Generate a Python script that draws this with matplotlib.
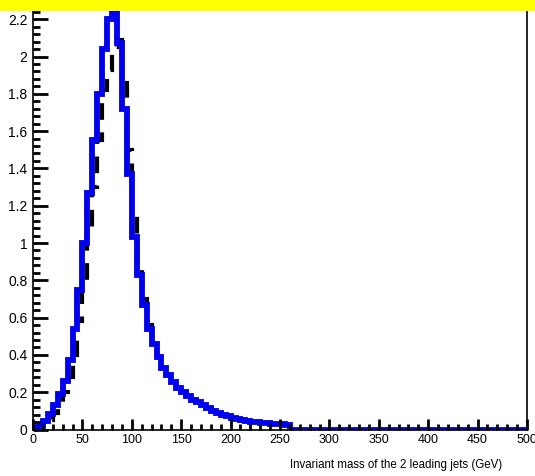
import numpy as np
import matplotlib
matplotlib.use("Agg")
import matplotlib.pyplot as plt
from matplotlib.ticker import MultipleLocator, FormatStrFormatter

plt.rcParams['font.family'] = ['Liberation Sans Narrow', 'Liberation Sans', 'DejaVu Sans']

# бины по 5 ГэВ, от 0 до 500
bin_width = 5
edges = np.arange(0, 500 + bin_width, bin_width)

# синяя гистограмма (сплошная линия), 0..260 ГэВ, дальше нули
blue_vals = [0.01, 0.02, 0.045, 0.085, 0.13, 0.19, 0.26, 0.37, 0.54, 0.75,
             1.0, 1.27, 1.55, 1.8, 2.04, 2.2, 2.25, 2.07, 1.72, 1.37,
             1.03, 0.83, 0.67, 0.54, 0.46, 0.39, 0.33, 0.29, 0.255, 0.225,
             0.2, 0.18, 0.16, 0.145, 0.13, 0.115, 0.1, 0.09, 0.08, 0.072,
             0.062, 0.056, 0.05, 0.046, 0.042, 0.039, 0.036, 0.033, 0.031, 0.029,
             0.027, 0.025]
# чёрная гистограмма (пунктир)
black_vals = [0.005, 0.01, 0.025, 0.05, 0.09, 0.14, 0.2, 0.28, 0.4, 0.58,
              0.8, 1.05, 1.3, 1.55, 1.82, 1.93, 2.05, 2.09, 1.86, 1.5,
              1.15, 0.88, 0.7, 0.56, 0.47, 0.39, 0.33, 0.29, 0.255, 0.225,
              0.2, 0.18, 0.16, 0.145, 0.13, 0.115, 0.1, 0.09, 0.08, 0.072,
              0.062, 0.056, 0.05, 0.046, 0.042, 0.039, 0.036, 0.033, 0.031, 0.029,
              0.027, 0.025]

n_bins = len(edges) - 1
blue = np.zeros(n_bins)
blue[:len(blue_vals)] = blue_vals
black = np.zeros(n_bins)
black[:len(black_vals)] = black_vals

x_label = 'Invariant mass of the 2 leading jets (GeV)'

W, H = 535, 476
fig = plt.figure(figsize=(W / 100, H / 100), dpi=100)
ax = fig.add_axes([33 / W, 46.5 / H, (527 - 33) / W, 1 - 46.5 / H])

ax.stairs(black, edges, color='black', lw=3, linestyle=(0, (4, 3)))
ax.stairs(blue, edges, color='#0000ee', lw=4.2)

ax.set_xlim(0, 500)
ax.set_ylim(0, 2.303)

ax.xaxis.set_major_locator(MultipleLocator(50))
ax.xaxis.set_minor_locator(MultipleLocator(10))
ax.yaxis.set_major_locator(MultipleLocator(0.2))
ax.yaxis.set_minor_locator(MultipleLocator(0.04))
ax.yaxis.set_major_formatter(FormatStrFormatter('%g'))

ax.tick_params(axis='both', which='both', direction='in', colors='black', width=2)
ax.tick_params(axis='y', which='major', length=11, labelsize=10, pad=4)
ax.tick_params(axis='y', which='minor', length=5)
ax.tick_params(axis='x', which='major', length=8, labelsize=9, pad=3)
ax.tick_params(axis='x', which='minor', length=4.5)
ax.tick_params(top=False, right=False, which='both')

for s in ax.spines.values():
    s.set_linewidth(1.2)
    s.set_color('black')

fig.text(502 / W, 1 - 465 / H, x_label, ha='right', va='center', fontsize=8.3)

# жёлтая полоса сверху
fig.patches.append(plt.Rectangle((0, 1 - 11 / H), 1, 11 / H, transform=fig.transFigure,
                                 facecolor='#ffff00', edgecolor='none', zorder=10))

fig.savefig('out.png', dpi=100)
